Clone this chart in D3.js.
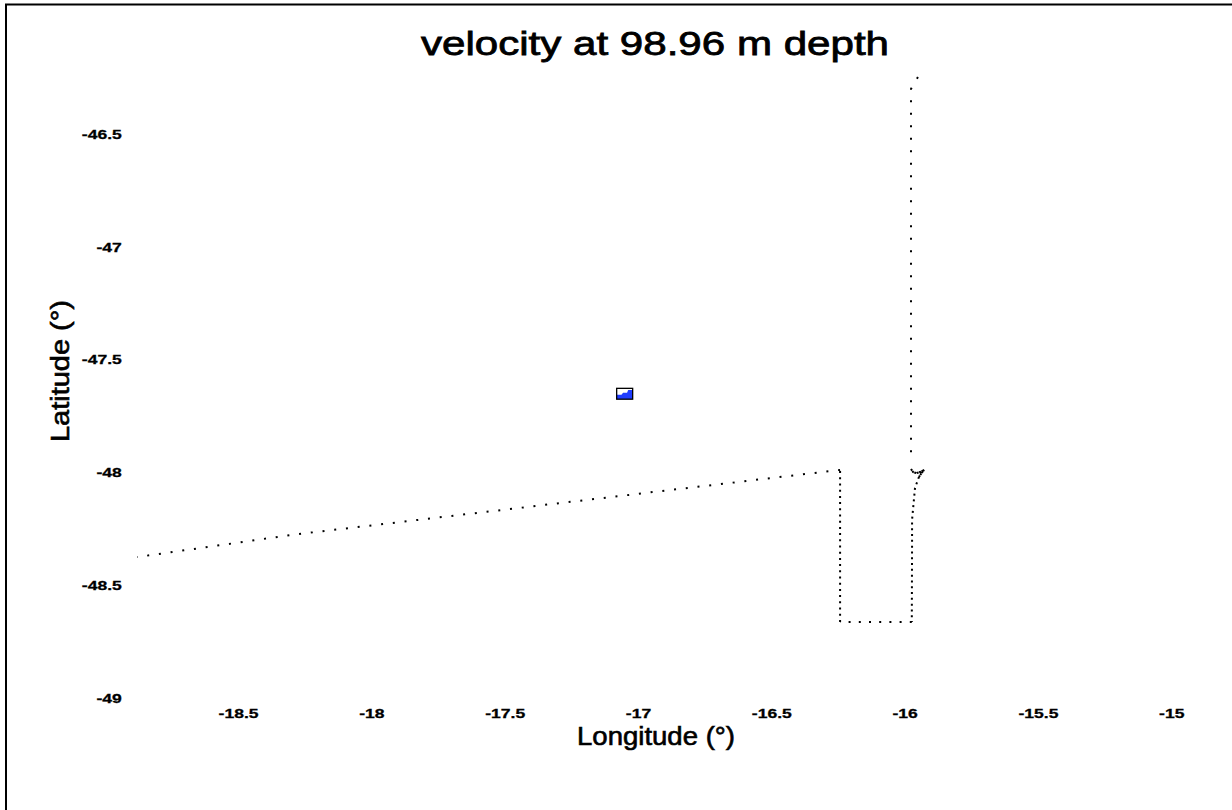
<!DOCTYPE html>
<html>
<head>
<meta charset="utf-8">
<script src="https://cdn.jsdelivr.net/npm/d3@7"></script>
<style>
  body { margin: 0; background: #fff; }
  svg { display: block; }
  text { font-family: "Liberation Sans", Arial, sans-serif; }
</style>
</head>
<body>
<svg width="1232" height="810"></svg>
<script>
// ticks
const lonTicks = [-18.5, -18, -17.5, -17, -16.5, -16, -15.5, -15];
const latTicks = [-46.5, -47, -47.5, -48, -48.5, -49];

// ship track, split into legs (lon, lat)
const legNorth = [[-15.950, -46.249], [-15.976, -46.302], [-15.976, -47.944]];
const legHook = [[-15.976, -47.984], [-15.968, -47.998], [-15.955, -48.002], [-15.938, -47.996],
                 [-15.927, -47.988], [-15.935, -48.000], [-15.946, -48.019]];
const legEast = [[-15.946, -48.019], [-15.961, -48.068], [-15.972, -48.209], [-15.972, -48.325],
                 [-15.973, -48.661]];
const legSouth = [[-15.973, -48.661], [-16.242, -48.661]];
const legWest = [[-16.242, -48.661], [-16.242, -47.988]];
const legDiag = [[-16.242, -47.988], [-18.294, -48.275], [-18.879, -48.374]];

// velocity scale box
const boxLon = [-17.080, -17.020];
const boxLat = [-47.675, -47.627];

const legs = [legNorth, legHook, legEast, legSouth, legWest, legDiag];
const legGap = [12.5, 2.5, 5.8, 10.2, 6.2, 11.8];

const svg = d3.select("svg");

const x = d3.scaleLinear().domain([-17, -15]).range([638, 1171.2]);
const y = d3.scaleLinear().domain([-49, -46.5]).range([698.5, 133.75]);

const sx = 1.3;

// frame
svg.append("path")
    .attr("d", "M6,810V4.5H1232")
    .attr("fill", "none")
    .attr("stroke", "#000")
    .attr("stroke-width", 2);

// title
svg.append("text")
    .attr("x", 655)
    .attr("y", 55)
    .attr("text-anchor", "middle")
    .attr("font-size", 34)
    .attr("stroke", "#000")
    .attr("stroke-width", 0.8)
    .attr("textLength", 468)
    .attr("lengthAdjust", "spacingAndGlyphs")
    .text("velocity at 98.96 m depth");

// x axis
const gx = svg.append("g")
    .attr("transform", "translate(0,700)")
    .call(d3.axisBottom(x).tickValues(lonTicks).tickSize(0).tickPadding(8).tickFormat(d => String(d)));
gx.select(".domain").remove();
gx.selectAll("text")
    .attr("font-family", "Liberation Sans, Arial, sans-serif")
    .attr("font-size", 13.5)
    .attr("font-weight", "bold")
    .attr("fill", "#000")
    .attr("stroke", "#000")
    .attr("stroke-width", 0.3)
    .attr("transform", `scale(${sx},1)`);

// y axis
const gy = svg.append("g")
    .attr("transform", "translate(127,0)")
    .call(d3.axisLeft(y).tickValues(latTicks).tickSize(0).tickPadding(4).tickFormat(d => String(d)));
gy.select(".domain").remove();
gy.selectAll("text")
    .attr("font-family", "Liberation Sans, Arial, sans-serif")
    .attr("font-size", 13.5)
    .attr("font-weight", "bold")
    .attr("fill", "#000")
    .attr("stroke", "#000")
    .attr("stroke-width", 0.3)
    .attr("x", -4)
    .attr("transform", `scale(${sx},1)`);

// axis titles
svg.append("text")
    .attr("x", 656)
    .attr("y", 745)
    .attr("text-anchor", "middle")
    .attr("font-size", 25)
    .attr("stroke", "#000")
    .attr("stroke-width", 0.6)
    .attr("textLength", 158)
    .attr("lengthAdjust", "spacingAndGlyphs")
    .text("Longitude (°)");

svg.append("text")
    .attr("transform", "translate(69,371) rotate(-90)")
    .attr("text-anchor", "middle")
    .attr("font-size", 25)
    .attr("stroke", "#000")
    .attr("stroke-width", 0.6)
    .attr("textLength", 142)
    .attr("lengthAdjust", "spacingAndGlyphs")
    .text("Latitude (°)");

// track
const line = d3.line().x(d => x(d[0])).y(d => y(d[1]));
svg.append("g")
    .selectAll("path")
    .data(legs)
    .join("path")
    .attr("d", line)
    .attr("fill", "none")
    .attr("stroke", "#000")
    .attr("stroke-width", 2)
    .attr("stroke-dasharray", (d, i) => `2 ${legGap[i] - 2}`);

// velocity scale box
const bx0 = x(boxLon[0]), bx1 = x(boxLon[1]);
const by0 = y(boxLat[1]), by1 = y(boxLat[0]);
const bw = bx1 - bx0, bh = by1 - by0;
svg.append("rect")
    .attr("x", bx0).attr("y", by0)
    .attr("width", bw).attr("height", bh)
    .attr("fill", "#fff");
svg.append("path")
    .attr("d", d3.line()([
        [bx0, by0 + bh * 0.6], [bx0 + bw * 0.3, by0 + bh * 0.6], [bx0 + bw * 0.4, by0 + bh * 0.4],
        [bx0 + bw * 0.65, by0 + bh * 0.4], [bx0 + bw * 0.72, by0 + bh * 0.15], [bx1, by0 + bh * 0.15],
        [bx1, by1], [bx0, by1]
    ]) + "Z")
    .attr("fill", "#1f3cff");
svg.append("rect")
    .attr("x", bx0).attr("y", by0)
    .attr("width", bw).attr("height", bh)
    .attr("fill", "none")
    .attr("stroke", "#000")
    .attr("stroke-width", 1.3);
</script>
</body>
</html>
